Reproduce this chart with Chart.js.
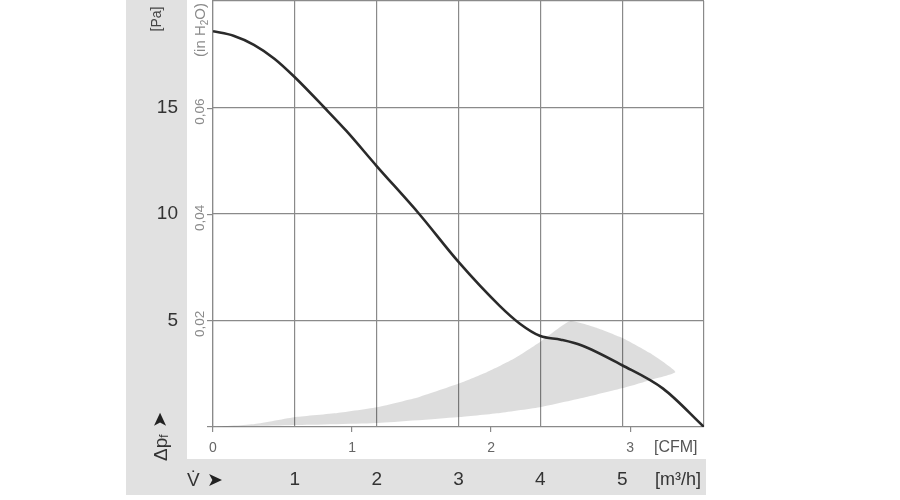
<!DOCTYPE html>
<html>
<head>
<meta charset="utf-8">
<script src="https://cdn.jsdelivr.net/npm/chart.js"></script>
<style>
  html, body { margin: 0; padding: 0; background: #fff; }
  #wrap { width: 900px; height: 500px; }
</style>
</head>
<body>
<div id="wrap"><canvas id="fanChart" width="900" height="500"></canvas></div>
<script>
// fan characteristic (m3/h -> Pa)
var flowM3h = [0, 0.25, 0.5, 0.75, 1.0, 1.36, 1.63, 2.0, 2.52, 3.0, 3.5, 3.75, 4.0, 4.25, 4.5, 5.0, 5.5, 6.0];
var pressurePa = [18.58, 18.37, 17.94, 17.29, 16.42, 15.0, 13.9, 12.25, 10.0, 7.75, 5.7, 4.85, 4.27, 4.1, 3.84, 2.9, 1.8, 0];

// grey operating zone, traced round its outline (upper edge, arc, lower edge)
var zoneFlow = [0, 0.51, 1.01, 1.52, 2.02, 2.52, 3.02, 3.35, 3.67, 4.01, 4.36,
                4.70, 5.01, 5.34, 5.65,
                5.34, 5.01, 4.51, 4.01, 3.51, 3.02, 2.02, 1.01, 0];
var zonePa = [0, 0.14, 0.47, 0.66, 0.94, 1.41, 2.06, 2.58, 3.19, 4.03, 4.97,
              4.64, 4.17, 3.47, 2.58,
              2.20, 1.83, 1.36, 0.94, 0.66, 0.47, 0.19, 0.09, 0];

// tick labels
var m3hTicks = [1, 2, 3, 4, 5];
var paTicks = [5, 10, 15];
var cfmTicks = [0, 1, 2, 3];
var inH2OTicks = [0.02, 0.04, 0.06];
var inH2OLabels = ['0,02', '0,04', '0,06'];

var M3H_PER_CFM = 1.699;
var PA_PER_INH2O = 249.09;
var FONT = '"Liberation Sans", Arial, "DejaVu Sans", sans-serif';
var GRID = '#8a8a8a';

function toPoints(xs, ys) {
  return xs.map(function (x, i) { return {x: x, y: ys[i]}; });
}

// no extra room for half-labels at the ends of an axis
function noEndPadding(scale) {
  scale.paddingTop = 0;
  scale.paddingBottom = 0;
  scale.paddingLeft = 0;
  scale.paddingRight = 0;
}

// draws a rotated (bottom-to-top) run of text parts
function rotatedText(c, x, y, parts, align) {
  c.save();
  c.translate(x, y);
  c.rotate(-Math.PI / 2);
  var total = 0;
  parts.forEach(function (p) { c.font = p.font; total += c.measureText(p.text).width; });
  var pos = align === 'center' ? -total / 2 : 0;
  c.textAlign = 'left';
  c.textBaseline = 'alphabetic';
  parts.forEach(function (p) {
    c.font = p.font;
    c.fillStyle = p.color;
    c.fillText(p.text, pos, p.dy || 0);
    pos += c.measureText(p.text).width;
  });
  c.restore();
}

var backdrop = {
  id: 'backdrop',
  beforeDraw: function (chart) {
    var c = chart.ctx, a = chart.chartArea, s = chart.scales;
    c.save();
    c.fillStyle = '#ffffff';
    c.fillRect(0, 0, chart.width, chart.height);
    c.fillStyle = '#e1e1e1';
    c.fillRect(126, 0, a.right + 2 - 126, 495);
    c.fillStyle = '#ffffff';
    c.fillRect(s.y2.left, 0, a.right + 2 - s.y2.left, s.x2.bottom);
    c.restore();
  },
  afterDraw: function (chart) {
    var c = chart.ctx, s = chart.scales;
    // in H2O tick labels
    inH2OTicks.forEach(function (v, i) {
      c.save();
      c.translate(200, s.y2.getPixelForValue(v) + 3);
      c.rotate(-Math.PI / 2);
      c.font = '13.5px ' + FONT;
      c.fillStyle = '#8a8a8a';
      c.textAlign = 'center';
      c.textBaseline = 'middle';
      c.fillText(inH2OLabels[i], 0, 0);
      c.restore();
    });
    rotatedText(c, 205, 30, [
      {text: '(in H', font: '15px ' + FONT, color: '#8a8a8a'},
      {text: '2', font: '10px ' + FONT, color: '#8a8a8a', dy: 3},
      {text: 'O)', font: '15px ' + FONT, color: '#8a8a8a'}
    ], 'center');
    rotatedText(c, 161, 19, [
      {text: '[Pa]', font: '14px ' + FONT, color: '#444'}
    ], 'center');
    rotatedText(c, 167, 461, [
      {text: '\u0394p', font: '19px ' + FONT, color: '#333'},
      {text: 'f', font: '12px ' + FONT, color: '#333', dy: 1},
      {text: '  ', font: '12px ' + FONT, color: '#333'},
      {text: '\u27A4', font: '19px "DejaVu Sans", sans-serif', color: '#222', dy: -1}
    ], 'left');

    c.save();
    c.textBaseline = 'middle';
    c.textAlign = 'left';
    c.fillStyle = '#555';
    c.font = '16px ' + FONT;
    c.fillText('[CFM]', 654, 448);
    c.fillStyle = '#333';
    c.font = '18px ' + FONT;
    c.fillText('[m\u00B3/h]', 655, 480);
    c.font = '19px ' + FONT;
    c.fillText('V\u0307', 187, 481);
    c.font = '19px "DejaVu Sans", sans-serif';
    c.fillStyle = '#222';
    c.fillText('\u27A4', 207, 481);
    c.restore();
  }
};

var ctx = document.getElementById('fanChart');
var fanChart = new Chart(ctx, {
  type: 'line',
  data: {
    datasets: [{
      data: toPoints(flowM3h, pressurePa),
      borderColor: '#2a2a2a',
      borderWidth: 2.6,
      pointRadius: 0,
      cubicInterpolationMode: 'monotone',
      fill: false,
      order: 1
    }, {
      data: toPoints(zoneFlow, zonePa),
      borderWidth: 0,
      borderColor: 'rgba(0,0,0,0)',
      backgroundColor: 'rgba(0,0,0,0.135)',
      pointRadius: 0,
      tension: 0.15,
      fill: 'shape',
      order: 2
    }]
  },
  options: {
    responsive: false,
    animation: false,
    devicePixelRatio: 1,
    layout: { padding: { left: 0, right: 196, top: 1, bottom: 0 } },
    plugins: { legend: { display: false }, tooltip: { enabled: false } },
    scales: {
      x: {
        type: 'linear', position: 'bottom', weight: 1, min: 0, max: 6,
        grid: { color: GRID, lineWidth: 1.2, drawTicks: false },
        border: { display: false },
        ticks: {
          stepSize: 1, autoSkip: false, maxRotation: 0, padding: 9.5,
          color: '#333', font: { size: 19, family: FONT },
          callback: function (v) { return m3hTicks.indexOf(v) >= 0 ? String(v) : ''; }
        },
        afterFit: function (scale) { scale.height = 41; noEndPadding(scale); }
      },
      x2: {
        type: 'linear', position: 'bottom', weight: 0, min: 0, max: 6 / M3H_PER_CFM,
        grid: { drawOnChartArea: false, drawTicks: true, tickLength: 5, color: GRID, lineWidth: 1.2 },
        border: { display: false },
        afterBuildTicks: function (scale) {
          scale.ticks = cfmTicks.map(function (v) { return {value: v}; });
        },
        ticks: {
          autoSkip: false, maxRotation: 0, padding: 7.5,
          color: '#666', font: { size: 14, family: FONT },
          callback: function (v) { return String(v); }
        },
        afterFit: function (scale) { scale.height = 32; noEndPadding(scale); }
      },
      y: {
        type: 'linear', position: 'left', weight: 1, min: 0, max: 20,
        grid: { color: GRID, lineWidth: 1.2, drawTicks: false },
        border: { display: false },
        ticks: {
          stepSize: 5, padding: 9,
          color: '#333', font: { size: 19, family: FONT },
          callback: function (v) { return paTicks.indexOf(v) >= 0 ? String(v) : ''; }
        },
        afterFit: function (scale) { scale.width = 187; noEndPadding(scale); }
      },
      y2: {
        type: 'linear', position: 'left', weight: 0, min: 0, max: 20 / PA_PER_INH2O,
        grid: { drawOnChartArea: false, drawTicks: true, tickLength: 6, color: GRID, lineWidth: 1.2 },
        border: { display: true, color: GRID, width: 1.2 },
        afterBuildTicks: function (scale) {
          scale.ticks = [0].concat(inH2OTicks).map(function (v) { return {value: v}; });
        },
        ticks: { display: false },
        afterFit: function (scale) { scale.width = 26; noEndPadding(scale); }
      }
    }
  },
  plugins: [backdrop]
});
</script>
</body>
</html>
